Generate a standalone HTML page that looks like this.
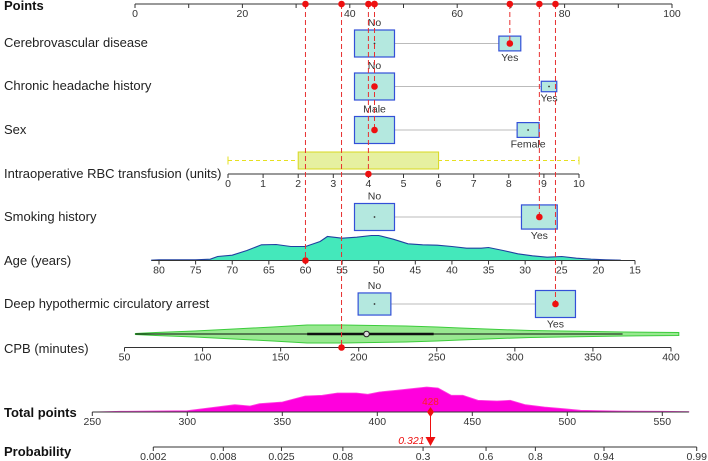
<!DOCTYPE html>
<html><head><meta charset="utf-8"><style>
html,body{margin:0;padding:0;background:#fff;}
svg{display:block;font-family:"Liberation Sans",Arial,sans-serif;}
</style></head><body>
<svg id="c" width="708" height="461" viewBox="0 0 708 461"></svg>
<script>
// ---- data ----
const pointTicks=[0,10,20,30,40,50,60,70,80,90,100];
const pointLabels=[0,20,40,60,80,100];
const catRows=["Cerebrovascular disease","Chronic headache history","Sex","Smoking history","Deep hypothermic circulatory arrest"];
const catLevels=[["No","Yes"],["No","Yes"],["Male","Female"],["No","Yes"],["No","Yes"]];
const catPoints=[[44.6,69.8],[44.6,77.1],[44.6,73.2],[44.6,75.3],[44.6,78.3]];
const catFreq=[[1,0.3],[1,0.15],[1,0.3],[1,0.8],[0.67,1]];
const catSelected=[1,0,0,1,1];
const rbcTicks=[0,1,2,3,4,5,6,7,8,9,10];
const rbcBox=[2,6];const rbcWhisk=[0,10];const rbcValue=4;
const ageTicks=[80,75,70,65,60,55,50,45,40,35,30,25,20,15];
const ageX=[81,80,75,73,72,70,68,66,64,62,60,58,57,55,53,51,50,48,46,44,42,40,38,36,35,33,31,29,27,25,23,21,19,17];
const ageDens=[1,2,2,4,12,16,30,47,48,42,42,57,72,67,70,75,75,64,50,47,46,42,37,37,39,30,20,14,10,12,7,4,2,1];
const ageValue=60;
const cpbTicks=[50,100,150,200,250,300,350,400];
const cpbX=[57,70,95,120,145,167,190,210,230,250,265,290,310,330,350,370,405];
const cpbHalf=[0.5,1.5,3,5,7,9,9,8.5,8,7,6,4.5,3.5,3,2.5,2,1.5];
const cpbBox=[167,248];const cpbWhisk=[57,369];const cpbMedian=205;const cpbValue=189;
const totTicks=[250,300,350,400,450,500,550];
const totX=[250,265,300,311,325,333,338,350,362,371,379,389,395,401,410,418,426,432,439,445,453,463,470,478,488,498,507,527,550,564];
const totDens=[0,2,4,12,22,18,25,30,48,50,57,57,53,60,65,70,75,72,50,50,35,33,35,22,15,10,5,3,2,1];
const totalValue=428;
const probTicks=[0.002,0.008,0.025,0.08,0.3,0.6,0.8,0.94,0.99];
const probLabels=["0.002","0.008","0.025","0.08","0.3","0.6","0.8","0.94","0.99"];
const probValue=0.321;

// ---- scales ----
const NS="http://www.w3.org/2000/svg";
const svg=document.getElementById('c');
const px=p=>135+p*5.37;
const rbcS=v=>228+v*35.1;
const ageS=a=>159+(80-a)*7.323;
const cpbS=m=>124.5+(m-50)*1.5614;
const totS=t=>92.3+(t-250)*1.9;
const logit=p=>Math.log(p/(1-p));
const probS=p=>153.3+(logit(p)-logit(0.002))*50.28;
function mk(tag,attrs,parent){const e=document.createElementNS(NS,tag);for(const k in attrs)e.setAttribute(k,attrs[k]);(parent||svg).appendChild(e);return e;}
function txt(x,y,s,size,anchor,extra){const t=mk('text',Object.assign({x:x,y:y,'font-size':size,'text-anchor':anchor||'start',fill:'#222'},extra||{}));t.textContent=s;return t;}
function axis(y,x0,x1,ticks,scale,labels,name){
 const g=mk('g',{});
 
 
 mk('line',{x1:x0,x2:x1,y1:y,y2:y,stroke:'#333','stroke-width':1},g);
 ticks.forEach((t,i)=>{const x=scale(t);mk('line',{x1:x,x2:x,y1:y,y2:y+4,stroke:'#333'},g);
  if(labels){const l=labels===true?String(t):labels[i];if(l!==null){const e=txt(x,y+13,l,10.5,'middle',{fill:'#333'});g.appendChild(e);}}});
 return g;}

// row labels
const rowLabels=[["Points",10,true],["Cerebrovascular disease",47],["Chronic headache history",90],["Sex",134],["Intraoperative RBC transfusion (units)",178],["Smoking history",221],["Age (years)",265],["Deep hypothermic circulatory arrest",308],["CPB (minutes)",353],["Total points",417,true],["Probability",456,true]];
rowLabels.forEach(r=>{const t=txt(4,r[1],r[0],13,'start',r[2]?{'font-weight':'bold',fill:'#111'}:{fill:'#222'});
 
 });

// points axis
const pAx=axis(4,px(0),px(100),pointTicks,px,null,'points-axis');
pointLabels.forEach(p=>{const e=txt(px(p),17,String(p),10.5,'middle',{fill:'#333'});pAx.appendChild(e);});

// categorical rows
const rowY=[43.5,86.5,130,217,304];
catRows.forEach((name,i)=>{
 const g=mk('g',{});
 
 
 const y=rowY[i];const fmax=Math.max(...catFreq[i]);
 const xs=catPoints[i].map(px);
 mk('line',{x1:xs[0],x2:xs[1],y1:y,y2:y,stroke:'#bbb','stroke-width':1},g);
 catLevels[i].forEach((lv,j)=>{
  const s=Math.sqrt(catFreq[i][j]/fmax);const w=40*s,h=27*s;
  const b=mk('rect',{x:xs[j]-w/2,y:y-h/2,width:w,height:h,fill:'#b4e8df',stroke:'#3350d8','stroke-width':1.2},g);
  
  
  mk('circle',{cx:xs[j],cy:y,r:0.9,fill:'#333'},g);
  if(j===0)g.appendChild(txt(xs[j],y-h/2-4,lv,10.5,'middle',{fill:'#333'}));
  else g.appendChild(txt(xs[j],y+h/2+10,lv,10.5,'middle',{fill:'#333'}));
 });
});

// RBC
(function(){const g=mk('g',{});
 
 
 const y=160.5;
 mk('line',{x1:rbcS(rbcWhisk[0]),x2:rbcS(rbcWhisk[1]),y1:y,y2:y,stroke:'#e6e020','stroke-dasharray':'4,3'},g);
 [rbcWhisk[0],rbcWhisk[1]].forEach(v=>mk('line',{x1:rbcS(v),x2:rbcS(v),y1:y-4,y2:y+4,stroke:'#e6e020'},g));
 mk('rect',{x:rbcS(rbcBox[0]),y:152,width:rbcS(rbcBox[1])-rbcS(rbcBox[0]),height:17,fill:'#e6f0a0',stroke:'#d8d820'},g);
 axis(174,rbcS(0),rbcS(10),rbcTicks,rbcS,true,'rbc-axis');
})();

// Age density
(function(){const base=260.5;let d='M'+ageS(ageX[0])+','+base;
 ageX.forEach((a,i)=>{d+=' L'+ageS(a).toFixed(1)+','+(base-ageDens[i]/3).toFixed(1);});
 d+=' L'+ageS(ageX[ageX.length-1])+','+base+'Z';
 const p=mk('path',{d:d,fill:'#44e8bb',stroke:'#2040a0','stroke-width':1.1});
 
 
 axis(base,ageS(81),ageS(15),ageTicks,ageS,true,'age-axis');
})();

// CPB violin
(function(){const y=334;let top='',bot='';
 cpbX.forEach((m,i)=>{top+=(i?' L':'M')+cpbS(m).toFixed(1)+','+(y-cpbHalf[i]).toFixed(1);});
 for(let i=cpbX.length-1;i>=0;i--)bot+=' L'+cpbS(cpbX[i]).toFixed(1)+','+(y+cpbHalf[i]).toFixed(1);
 const v=mk('path',{d:top+bot+'Z',fill:'#98e890',stroke:'#3ccc3c','stroke-width':1});
 
 
 mk('line',{x1:cpbS(cpbWhisk[0]),x2:cpbS(cpbWhisk[1]),y1:y,y2:y,stroke:'#111','stroke-width':1});
 mk('line',{x1:cpbS(cpbBox[0]),x2:cpbS(cpbBox[1]),y1:y,y2:y,stroke:'#111','stroke-width':2.5});
 mk('circle',{cx:cpbS(cpbMedian),cy:y,r:2.8,fill:'#ddd',stroke:'#222'});
 axis(347.5,cpbS(50),cpbS(400),cpbTicks,cpbS,true,'cpb-axis');
})();

// Total points density
(function(){const base=412;let d='M'+totS(totX[0])+','+base;
 totX.forEach((t,i)=>{d+=' L'+totS(t).toFixed(1)+','+(base-totDens[i]/3).toFixed(1);});
 d+=' L'+totS(totX[totX.length-1])+','+base+'Z';
 const p=mk('path',{d:d,fill:'#ff00dd',stroke:'#ff40e0','stroke-width':0.8});
 
 
 axis(base,totS(250),totS(564),totTicks,totS,true,'total-points-axis');
})();

// Probability axis
axis(447,probS(0.002),probS(0.99),probTicks,probS,probLabels,'probability-axis');

// red selections
const selX=[];
catRows.forEach((n,i)=>selX.push([px(catPoints[i][catSelected[i]]),rowY[i]]));
selX.push([rbcS(rbcValue),174]);
selX.push([ageS(ageValue),260.5]);
selX.push([cpbS(cpbValue),347.5]);
selX.forEach(s=>{
 const l=mk('line',{x1:s[0],x2:s[0],y1:4,y2:s[1],stroke:'#e83030','stroke-width':1,'stroke-dasharray':'5,3'});
 
 
});
selX.forEach(s=>{
 const c=mk('circle',{cx:s[0],cy:s[1],r:3.3,fill:'#ee1010'});
 
 
 mk('circle',{cx:s[0],cy:4,r:3.3,fill:'#ee1010'});
});
// total & probability marker
const tx=totS(totalValue);
mk('line',{x1:tx,x2:tx,y1:412,y2:440,stroke:'#ee1010','stroke-width':1});
const dm=mk('path',{d:`M${tx},407 L${tx+3.5},412 L${tx},417 L${tx-3.5},412Z`,fill:'#ee1010'});


txt(tx,405,String(totalValue),10,'middle',{fill:'#ff2020'});
const ax=tx;
const tri=mk('path',{d:`M${ax-5},437 L${ax+5},437 L${ax},446Z`,fill:'#ee1010'});


txt(ax-6,444,String(probValue),10.5,'end',{fill:'#ee1010','font-style':'italic'});
</script>
</body></html>
